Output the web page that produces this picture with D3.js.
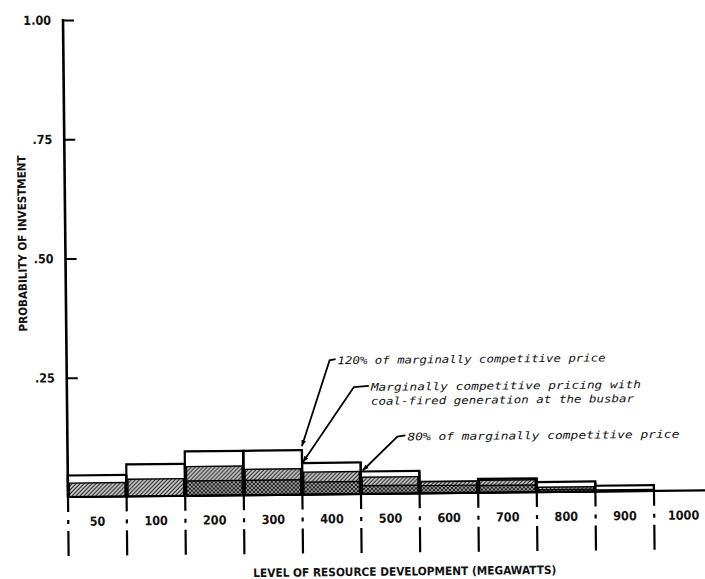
<!DOCTYPE html>
<html>
<head>
<meta charset="utf-8">
<script src="https://cdn.jsdelivr.net/npm/d3@7"></script>
<style>
  html, body { margin: 0; padding: 0; background: #fff; }
  svg { display: block; }
</style>
</head>
<body>
<svg id="chart" width="705" height="579"></svg>
<script>
// ---- data -------------------------------------------------------------
const bins = ["50", "100", "200", "300", "400", "500", "600", "700", "800", "900", "1000"];
// probability of investment per development level, three pricing cases
const price120    = [0.045, 0.067, 0.093, 0.093, 0.066, 0.047, 0.024, 0.029, 0.021, 0.012, 0];
const priceBusbar = [0.029, 0.036, 0.061, 0.054, 0.047, 0.035, 0.024, 0.026, 0.010, 0.003, 0];
const price80     = [0,     0,     0.031, 0.031, 0.026, 0.017, 0.016, 0.015, 0.005, 0,     0];
const yTicks = [0.25, 0.50, 0.75, 1.00];
const yTickLabels = [".25", ".50", ".75", "1.00"];
const noteTexts = [
  ["120% of marginally competitive price"],
  ["Marginally competitive pricing with", "coal-fired generation at the busbar"],
  ["80% of marginally competitive price"]
];
const xTitle = "LEVEL OF RESOURCE DEVELOPMENT (MEGAWATTS)";
const yTitle = "PROBABILITY OF INVESTMENT";

// ---- layout -----------------------------------------------------------
const x0 = 68, y0 = 497, binW = 58.6;
const svg = d3.select("#chart");
const condensed = "'Liberation Sans Narrow','DejaVu Sans Condensed','Roboto Condensed',sans-serif";
const typewriter = "'DejaVu Sans Mono','Liberation Mono',monospace";

const x = d3.scaleBand().domain(bins).range([x0, x0 + binW * bins.length]).padding(0);
const y = d3.scaleLinear().domain([0, 1]).range([y0, 20]);

// hatch fills
const defs = svg.append("defs");
const hatch = defs.append("pattern").attr("id", "hatch")
  .attr("patternUnits", "userSpaceOnUse").attr("width", 4).attr("height", 4);
hatch.append("rect").attr("width", 4).attr("height", 4).attr("fill", "#d4d4d4");
hatch.append("path").attr("d", "M0,4 L4,0 M-1,1 L1,-1 M3,5 L5,3")
  .attr("stroke", "#151515").attr("stroke-width", 1.1);

const cross = defs.append("pattern").attr("id", "cross")
  .attr("patternUnits", "userSpaceOnUse").attr("width", 4).attr("height", 4);
cross.append("rect").attr("width", 4).attr("height", 4).attr("fill", "#9a9a9a");
cross.append("path").attr("d", "M0,4 L4,0 M-1,1 L1,-1 M3,5 L5,3 M0,0 L4,4")
  .attr("stroke", "#111").attr("stroke-width", 0.9);

defs.append("marker").attr("id", "arrow")
  .attr("viewBox", "0 0 10 10").attr("refX", 10).attr("refY", 5)
  .attr("markerWidth", 6).attr("markerHeight", 6).attr("markerUnits", "userSpaceOnUse")
  .attr("orient", "auto")
  .append("path").attr("d", "M0,1 L10,5 L0,9 Z").attr("fill", "#000");

// the whole sheet sits very slightly tilted
const g = svg.append("g").attr("transform", `rotate(-0.6, ${x0}, ${y0})`);

// ---- bars -------------------------------------------------------------
const rows = bins.map((b, i) => ({ b, hi: price120[i], mid: priceBusbar[i], lo: price80[i] }));

g.selectAll("rect.hi").data(rows.filter(d => d.hi > 0)).join("rect")
  .attr("class", "hi")
  .attr("x", d => x(d.b)).attr("width", x.bandwidth())
  .attr("y", d => y(d.hi)).attr("height", d => y0 - y(d.hi))
  .attr("fill", "#fff").attr("stroke", "#000").attr("stroke-width", 2.2);

g.selectAll("rect.mid").data(rows.filter(d => d.mid > 0)).join("rect")
  .attr("class", "mid")
  .attr("x", d => x(d.b) + 1.5).attr("width", x.bandwidth() - 3)
  .attr("y", d => y(d.mid)).attr("height", d => y0 - y(d.mid))
  .attr("fill", "url(#hatch)").attr("stroke", "#000").attr("stroke-width", 1.4);

g.selectAll("rect.lo").data(rows.filter(d => d.lo > 0)).join("rect")
  .attr("class", "lo")
  .attr("x", d => x(d.b) + 1.5).attr("width", x.bandwidth() - 3)
  .attr("y", d => y(d.lo)).attr("height", d => y0 - y(d.lo))
  .attr("fill", "url(#cross)").attr("stroke", "#000").attr("stroke-width", 1.4);

// bin edges redrawn on top so neighbouring bars share a heavy rule
g.selectAll("line.edge").data(rows.filter(d => d.hi > 0)).join("line")
  .attr("class", "edge")
  .attr("x1", d => x(d.b) + x.bandwidth()).attr("x2", d => x(d.b) + x.bandwidth())
  .attr("y1", y0).attr("y2", d => y(d.hi))
  .attr("stroke", "#000").attr("stroke-width", 2.2);

// ---- axes -------------------------------------------------------------
g.append("line").attr("x1", x0).attr("x2", x0 + binW * bins.length)
  .attr("y1", y0).attr("y2", y0).attr("stroke", "#000").attr("stroke-width", 2.2);
g.append("line").attr("x1", x0).attr("x2", x0).attr("y1", y0).attr("y2", y(1) - 1)
  .attr("stroke", "#000").attr("stroke-width", 2.6);

const yAxis = d3.axisLeft(y).tickValues(yTicks)
  .tickFormat((d, i) => yTickLabels[i]).tickSize(-11).tickPadding(12);
const ya = g.append("g").attr("transform", `translate(${x0},0)`).call(yAxis);
ya.select(".domain").remove();
ya.selectAll(".tick line").attr("stroke", "#000").attr("stroke-width", 2);
ya.selectAll(".tick text").attr("font-family", condensed).attr("font-size", 12.5)
  .attr("font-weight", "bold").attr("fill", "#111");

// dashed bin boundary ticks below the base line
g.selectAll("line.xtick").data(bins).join("line")
  .attr("class", "xtick")
  .attr("x1", d => x(d)).attr("x2", d => x(d))
  .attr("y1", y0).attr("y2", y0 + 59)
  .attr("stroke", "#000").attr("stroke-width", 2.2)
  .attr("stroke-dasharray", "15,8,4,7,25");

g.selectAll("text.xlab").data(bins).join("text")
  .attr("class", "xlab")
  .attr("x", d => x(d) + x.bandwidth() / 2).attr("y", y0 + 29)
  .attr("text-anchor", "middle")
  .attr("font-family", condensed).attr("font-size", 12.5).attr("font-weight", "bold")
  .attr("fill", "#111")
  .text(d => d);

g.append("text").attr("x", 404).attr("y", y0 + 82).attr("text-anchor", "middle")
  .attr("font-family", condensed).attr("font-size", 11.5).attr("font-weight", "bold")
  .attr("textLength", 303).attr("lengthAdjust", "spacingAndGlyphs")
  .attr("fill", "#111").text(xTitle);

g.append("text").attr("transform", `translate(29,243) rotate(-90)`)
  .attr("text-anchor", "middle")
  .attr("font-family", condensed).attr("font-size", 11.5).attr("font-weight", "bold")
  .attr("textLength", 176).attr("lengthAdjust", "spacingAndGlyphs")
  .attr("fill", "#111").text(yTitle);

// ---- annotations --------------------------------------------------------
const notes = [
  { text: noteTexts[0], tx: 339, ty: 363, cx: 331, len: 268,
    tip: [x("300") + x.bandwidth(), y(price120[3]) - 4] },
  { text: noteTexts[1], tx: 372, ty: 390, cx: 355, len: 270,
    tip: [x("400") + 1, y(price120[4]) - 1] },
  { text: noteTexts[2], tx: 408, ty: 440, cx: 398, len: 272,
    tip: [x("500") + 2, y(price120[5]) - 1] }
];

notes.forEach(n => {
  g.append("path")
    .attr("d", `M${n.tx - 2},${n.ty - 1} L${n.cx},${n.ty} L${n.tip[0]},${n.tip[1]}`)
    .attr("fill", "none").attr("stroke", "#000").attr("stroke-width", 1.8)
    .attr("marker-end", "url(#arrow)");
  n.text.forEach((t, k) => {
    g.append("text").attr("x", n.tx).attr("y", n.ty + 4 + k * 14)
      .attr("font-family", typewriter).attr("font-style", "italic")
      .attr("font-size", 10.5).attr("fill", "#111")
      .attr("textLength", n.len - (k ? 7 : 0)).attr("lengthAdjust", "spacingAndGlyphs")
      .text(t);
  });
});
</script>
</body>
</html>
